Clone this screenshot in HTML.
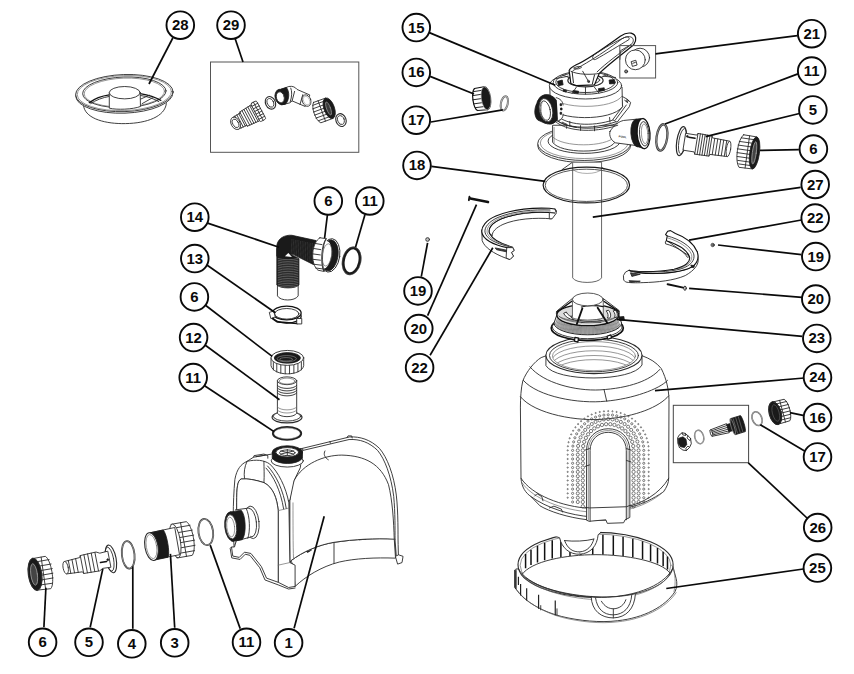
<!DOCTYPE html>
<html><head><meta charset="utf-8"><title>Parts diagram</title>
<style>
html,body{margin:0;padding:0;background:#fff;}
body{width:854px;height:674px;overflow:hidden;font-family:"Liberation Sans",sans-serif;}
svg{display:block;}
.c{fill:#fff;stroke:#0a0a0a;stroke-width:1.9;}
.t{font-family:"Liberation Sans",sans-serif;font-weight:bold;font-size:15.4px;fill:#0a0a0a;text-anchor:middle;}
.l{stroke:#0a0a0a;stroke-width:1.7;fill:none;stroke-linecap:butt;}
.p,.pw,.pl,.plw,.pk,.pd,.pg,.pgw{vector-effect:non-scaling-stroke;}
.pd{fill:none;stroke:#111;stroke-width:1.3;stroke-linejoin:round;stroke-linecap:round;}
.pg{fill:none;stroke:#999;stroke-width:0.6;}
.pgw{fill:#fff;stroke:#999;stroke-width:0.6;}
.p{fill:none;stroke:#2a2a2a;stroke-width:0.9;stroke-linejoin:round;stroke-linecap:round;}
.pw{fill:#fff;stroke:#2a2a2a;stroke-width:0.9;stroke-linejoin:round;stroke-linecap:round;}
.pl{fill:none;stroke:#6a6a6a;stroke-width:0.7;stroke-linejoin:round;stroke-linecap:round;}
.plw{fill:#fff;stroke:#6a6a6a;stroke-width:0.7;stroke-linejoin:round;stroke-linecap:round;}
.pk{fill:#1a1a1a;stroke:#1a1a1a;stroke-width:0.8;stroke-linejoin:round;}
.bx{fill:none;stroke:#555;stroke-width:1;}
</style></head><body>
<svg width="854" height="674" viewBox="0 0 854 674">
<rect width="854" height="674" fill="#fff"/>
<!-- 10_p28.svg -->
<g transform="translate(70 65) scale(0.1288)">
<!-- bowl -->
<path class="pw" d="M108,330 C130,420 280,458 430,455 C600,452 735,400 748,300 L748,250 L100,250 Z"/>
<!-- rim outer -->
<ellipse class="pw" cx="422" cy="228" rx="378" ry="146" transform="rotate(-2 422 228)"/>
<ellipse class="pw" cx="422" cy="218" rx="378" ry="144" transform="rotate(-2 422 218)"/>
<ellipse class="pl" cx="422" cy="218" rx="366" ry="136" transform="rotate(-2 422 218)"/>
<!-- inner rim -->
<ellipse class="pw" cx="422" cy="212" rx="324" ry="119" transform="rotate(-2 422 212)"/>
<ellipse class="pl" cx="422" cy="214" rx="312" ry="112" transform="rotate(-2 422 214)"/>
<!-- inner floor arcs (dark) -->
<path class="pd" d="M150,292 C190,262 250,240 305,232"/>
<path class="p" d="M160,300 C200,272 255,252 305,244"/>
<path class="pd" d="M545,222 C610,232 665,250 705,275"/>
<path class="p" d="M545,236 C600,244 650,260 690,285"/>
<path class="p" d="M548,265 L615,235 M560,300 L640,255"/>
<!-- hub -->
<path class="pw" d="M305,215 L305,335 C360,350 490,345 547,322 L545,215 Z"/>
<ellipse class="pw" cx="425" cy="215" rx="120" ry="48"/>
</g>

<!-- 11_p29.svg -->
<rect class="bx" x="210.5" y="62" width="148.3" height="90.3"/>
<g transform="translate(220 75) scale(0.1639)">
<!-- hose adapter (axis direction approx -28deg) -->
<g transform="rotate(-28 95 295)">
  <path class="pw" d="M95,255 L150,253 L150,246 L235,240 L235,350 L150,344 L150,337 L95,335 Z"/>
  <path class="p" d="M112,254 L112,336 M126,253 L126,337 M140,252 L140,338 M150,246 L150,344 M166,245 L166,345 M180,244 L180,346 M194,243 L194,347 M208,242 L208,348 M222,241 L222,349"/>
  <rect class="pw" x="232" y="232" width="40" height="126" rx="9"/>
  <path class="p" d="M232,250 L272,250 M232,268 L272,268 M232,286 L272,286 M232,304 L272,304 M232,322 L272,322 M232,340 L272,340 M252,232 L252,358"/>
  <ellipse class="pw" cx="95" cy="295" rx="27" ry="40"/>
  <ellipse class="p" cx="95" cy="295" rx="17" ry="28"/>
</g>
<!-- oring -->
<ellipse class="pw" cx="308" cy="170" rx="30" ry="40" transform="rotate(-25 308 170)" style="stroke-width:1.1"/>
<ellipse class="p" cx="308" cy="170" rx="19" ry="28" transform="rotate(-25 308 170)"/>
<!-- elbow -->
<path class="pw" d="M375,88 L420,70 C445,66 460,75 470,88 L548,122 L520,192 L440,158 L425,170 L385,180 Z"/>
<path class="p" d="M432,80 C440,100 440,130 428,165 M455,100 L440,158 M505,120 L488,180"/>
<ellipse class="pw" cx="528" cy="156" rx="26" ry="36" transform="rotate(-20 528 156)"/>
<ellipse class="pg" cx="528" cy="156" rx="18" ry="27" transform="rotate(-20 528 156)"/>
<path class="pk" d="M372,86 L405,76 C425,100 425,150 400,178 L372,182 Z"/>
<ellipse class="pk" cx="372" cy="134" rx="36" ry="48" transform="rotate(-15 372 134)"/>
<ellipse class="pw" cx="368" cy="136" rx="24" ry="34" transform="rotate(-15 368 136)"/>
<!-- nut -->
<g transform="rotate(-20 630 215)">
  <path class="pw" d="M590,150 L670,150 L670,282 L590,282 C565,260 565,172 590,150 Z"/>
  <path class="p" d="M580,165 L670,165 M572,185 L670,185 M570,205 L670,205 M570,225 L670,225 M572,245 L670,245 M580,265 L670,265 M620,150 L620,282"/>
  <ellipse class="pk" cx="668" cy="216" rx="32" ry="66"/>
  <ellipse class="pw" cx="664" cy="216" rx="12" ry="42" style="stroke:#888;fill:#3a3a3a"/>
</g>
<!-- oring 2 -->
<ellipse class="pw" cx="738" cy="275" rx="31" ry="40" transform="rotate(-20 738 275)" style="stroke-width:1.1"/>
<ellipse class="p" cx="738" cy="275" rx="20" ry="28" transform="rotate(-20 738 275)"/>
</g>

<!-- 20_p14.svg -->
<g transform="translate(260 225) scale(0.15581)">
<path class="pw" d="M112,380 L112,455 C130,490 225,490 245,455 L245,380 Z"/>
<path class="pk" d="M108,150 L108,385 C130,410 230,410 250,385 L250,215 L190,185 Z"/>
<path d="M114,215 C150,225 210,225 246,215" fill="none" stroke="#aaa" stroke-width="0.45" vector-effect="non-scaling-stroke"/>
<path d="M114,226 C150,236 210,236 246,226" fill="none" stroke="#aaa" stroke-width="0.45" vector-effect="non-scaling-stroke"/>
<path d="M114,237 C150,247 210,247 246,237" fill="none" stroke="#aaa" stroke-width="0.45" vector-effect="non-scaling-stroke"/>
<path d="M114,248 C150,258 210,258 246,248" fill="none" stroke="#aaa" stroke-width="0.45" vector-effect="non-scaling-stroke"/>
<path d="M114,259 C150,269 210,269 246,259" fill="none" stroke="#aaa" stroke-width="0.45" vector-effect="non-scaling-stroke"/>
<path d="M114,270 C150,280 210,280 246,270" fill="none" stroke="#aaa" stroke-width="0.45" vector-effect="non-scaling-stroke"/>
<path d="M114,281 C150,291 210,291 246,281" fill="none" stroke="#aaa" stroke-width="0.45" vector-effect="non-scaling-stroke"/>
<path d="M114,292 C150,302 210,302 246,292" fill="none" stroke="#aaa" stroke-width="0.45" vector-effect="non-scaling-stroke"/>
<path d="M114,303 C150,313 210,313 246,303" fill="none" stroke="#aaa" stroke-width="0.45" vector-effect="non-scaling-stroke"/>
<path d="M114,314 C150,324 210,324 246,314" fill="none" stroke="#aaa" stroke-width="0.45" vector-effect="non-scaling-stroke"/>
<path d="M114,325 C150,335 210,335 246,325" fill="none" stroke="#aaa" stroke-width="0.45" vector-effect="non-scaling-stroke"/>
<path d="M114,336 C150,346 210,346 246,336" fill="none" stroke="#aaa" stroke-width="0.45" vector-effect="non-scaling-stroke"/>
<path d="M114,347 C150,357 210,357 246,347" fill="none" stroke="#aaa" stroke-width="0.45" vector-effect="non-scaling-stroke"/>
<path d="M114,358 C150,368 210,368 246,358" fill="none" stroke="#aaa" stroke-width="0.45" vector-effect="non-scaling-stroke"/>
<path d="M114,369 C150,379 210,379 246,369" fill="none" stroke="#aaa" stroke-width="0.45" vector-effect="non-scaling-stroke"/>
<path d="M114,380 C150,390 210,390 246,380" fill="none" stroke="#aaa" stroke-width="0.45" vector-effect="non-scaling-stroke"/>
<path d="M114,391 C150,401 210,401 246,391" fill="none" stroke="#aaa" stroke-width="0.45" vector-effect="non-scaling-stroke"/>
<path class="pk" d="M108,200 L108,130 C115,85 160,62 205,66 L360,100 L345,255 L215,190 L180,185 C150,190 130,200 108,200 Z"/>
<path d="M160,200 L182,180 L205,205 Z" fill="#fff" stroke="none"/>
<path d="M205,92 L200,188" stroke="#777" stroke-width="0.4" stroke-dasharray="0.6 0.6" vector-effect="non-scaling-stroke"/>
<path d="M216,94 L211,192" stroke="#777" stroke-width="0.4" stroke-dasharray="0.6 0.6" vector-effect="non-scaling-stroke"/>
<path d="M227,96 L223,197" stroke="#777" stroke-width="0.4" stroke-dasharray="0.6 0.6" vector-effect="non-scaling-stroke"/>
<path d="M238,98 L234,201" stroke="#777" stroke-width="0.4" stroke-dasharray="0.6 0.6" vector-effect="non-scaling-stroke"/>
<path d="M249,100 L246,206" stroke="#777" stroke-width="0.4" stroke-dasharray="0.6 0.6" vector-effect="non-scaling-stroke"/>
<path d="M260,103 L258,211" stroke="#777" stroke-width="0.4" stroke-dasharray="0.6 0.6" vector-effect="non-scaling-stroke"/>
<path d="M271,105 L269,215" stroke="#777" stroke-width="0.4" stroke-dasharray="0.6 0.6" vector-effect="non-scaling-stroke"/>
<path d="M282,107 L281,220" stroke="#777" stroke-width="0.4" stroke-dasharray="0.6 0.6" vector-effect="non-scaling-stroke"/>
<path d="M293,109 L292,224" stroke="#777" stroke-width="0.4" stroke-dasharray="0.6 0.6" vector-effect="non-scaling-stroke"/>
<path d="M304,111 L304,229" stroke="#777" stroke-width="0.4" stroke-dasharray="0.6 0.6" vector-effect="non-scaling-stroke"/>
<path d="M315,114 L316,234" stroke="#777" stroke-width="0.4" stroke-dasharray="0.6 0.6" vector-effect="non-scaling-stroke"/>
<path d="M326,116 L327,238" stroke="#777" stroke-width="0.4" stroke-dasharray="0.6 0.6" vector-effect="non-scaling-stroke"/>
<path d="M337,118 L339,243" stroke="#777" stroke-width="0.4" stroke-dasharray="0.6 0.6" vector-effect="non-scaling-stroke"/>
<ellipse class="pw" cx="450" cy="195" rx="62" ry="108" transform="rotate(8 450 195)" style="stroke-width:1"/>
<ellipse class="pk" cx="446" cy="195" rx="55" ry="100" transform="rotate(8 446 195)"/>
<ellipse class="pw" cx="416" cy="192" rx="42" ry="90" transform="rotate(8 416 192)" style="stroke:none"/>
<path class="pw" d="M385,82 L425,88 C395,120 385,250 410,298 L372,290 C320,250 330,110 385,82 Z"/>
<path class="p" d="M352,118 L398,126 M340,150 L390,158 M336,185 L387,192 M338,220 L388,226 M346,252 L394,258 M358,276 L402,282"/>
<path class="p" d="M425,88 C400,120 392,250 412,298"/>
<ellipse class="pl" cx="430" cy="192" rx="30" ry="72" transform="rotate(8 430 192)"/>
<ellipse cx="588" cy="230" rx="52" ry="84" transform="rotate(12 588 230)" fill="#fff" stroke="#1a1a1a" stroke-width="2.8" vector-effect="non-scaling-stroke"/>
<ellipse cx="588" cy="230" rx="60" ry="91" transform="rotate(12 588 230)" fill="none" stroke="#666" stroke-width="0.5" vector-effect="non-scaling-stroke"/>
<ellipse class="pw" cx="172" cy="585" rx="92" ry="44" style="stroke-width:1.3;stroke:#111"/>
<ellipse class="pw" cx="172" cy="565" rx="92" ry="44" style="stroke-width:1.3;stroke:#111"/>
<ellipse class="p" cx="172" cy="570" rx="78" ry="34"/>
<path class="pw" d="M62,560 L88,552 L98,590 L72,600 Z"/>
<path class="pd" d="M80,600 L110,622 L240,632" style="stroke-width:1.6"/>
<path class="pw" d="M238,600 L268,600 L268,635 L238,635 Z"/>
</g>

<!-- 21_p12.svg -->
<g transform="translate(250 340) scale(0.15564)">
<!-- nut 6 -->
<path class="pw" d="M135,115 L135,165 C150,235 330,235 345,165 L345,115 Z"/>
<path class="p" d="M150,140 L150,192 M172,152 L172,205 M198,160 L198,213 M226,163 L226,217 M254,163 L254,217 M282,160 L282,213 M308,152 L308,205 M330,140 L330,192"/>
<ellipse class="pw" cx="240" cy="115" rx="105" ry="48"/>
<ellipse class="pk" cx="240" cy="115" rx="84" ry="34"/>
<ellipse cx="236" cy="120" rx="62" ry="20" fill="none" stroke="#aaa" stroke-width="0.5" vector-effect="non-scaling-stroke"/>
<ellipse cx="232" cy="124" rx="42" ry="11" fill="none" stroke="#aaa" stroke-width="0.5" vector-effect="non-scaling-stroke"/>
<!-- flange 12 -->
<ellipse class="pw" cx="238" cy="497" rx="96" ry="36" style="stroke-width:1.2"/>
<ellipse class="pw" cx="238" cy="490" rx="88" ry="31"/>
<!-- tube -->
<path class="pw" d="M176,262 L176,470 C190,500 285,500 300,470 L300,262 Z"/>
<path class="p" d="M176,292 C195,318 280,318 300,292 M176,308 C195,334 280,334 300,308 M176,324 C195,350 280,350 300,324 M176,340 C195,366 280,366 300,340"/>
<path class="pl" d="M176,430 C195,456 280,456 300,430 M176,450 C195,476 280,476 300,450"/>
<ellipse class="pw" cx="238" cy="262" rx="62" ry="25"/>
<ellipse class="pl" cx="238" cy="264" rx="50" ry="19"/>
<!-- oring 11 -->
<ellipse cx="238" cy="600" rx="90" ry="40" fill="#fff" stroke="#222" stroke-width="2.2" vector-effect="non-scaling-stroke"/>
<ellipse cx="238" cy="600" rx="82" ry="34" fill="none" stroke="#fff" stroke-width="0.5" vector-effect="non-scaling-stroke"/>
</g>

<!-- 30_pump.svg -->
<g transform="translate(225 425) scale(0.25956)">
<!-- rear outer edge (double) -->
<path class="pw" d="M290,92 L480,46 C520,44 560,56 595,90 C625,125 650,190 660,270 C668,340 666,420 667,460 L668,500 L686,506 L682,530 L665,536 L657,508 L652,440 L250,540 L250,290 C255,200 270,130 290,92 Z"/>
<path class="p" d="M300,98 L478,56 C520,54 555,66 588,98 C615,130 640,195 650,275 C656,340 655,400 655,440"/>
<path class="p" d="M655,440 L660,505 L668,500"/>
<path class="p" d="M470,48 L474,42 L488,42 L490,50 M404,64 L406,70"/>
<!-- lower band -->
<path class="pw" d="M255,522 C300,488 360,462 420,452 C500,440 580,436 652,438 L657,513 C580,510 500,514 440,528 C370,546 310,584 270,622 L262,540 Z"/>
<path class="p" d="M420,452 L420,533"/>
<path class="pw" d="M308,480 L322,474 L332,482 L318,490 Z M518,430 L542,428 L542,440 L518,442 Z" style="stroke:#111;stroke-width:1.1;fill:#888"/>
<!-- main dome surface -->
<path class="pw" d="M250,530 L250,290 C255,250 258,230 266,214 C300,150 380,116 450,116 C540,118 600,150 630,230 C645,290 650,370 652,440 C580,436 500,440 420,452 C360,462 300,488 255,522 Z"/>
<path class="p" d="M385,100 C378,112 384,126 398,134"/>
<path class="pl" d="M262,300 C262,380 262,460 264,516"/>
<!-- top-left block and top surface -->
<path class="pw" d="M85,140 L110,124 L180,112 L300,92 L290,165 L266,214 L250,290 L200,300 L170,230 L85,200 Z"/>
<!-- front (left) face -->
<path class="pw" d="M35,470 C30,400 30,300 38,210 C45,170 62,150 85,140 C120,132 150,135 172,150 C205,180 235,240 246,300 L250,530 L270,540 L270,622 L245,626 L205,606 L205,330 C200,280 185,240 150,222 C120,212 85,205 62,208 C48,215 45,240 45,300 L45,440 Z"/>
<path class="pw" d="M45,440 L45,300 C45,240 48,215 62,208 C85,205 120,212 150,222 C185,240 200,280 205,330 L205,606 L160,590 L140,545 L100,495 L75,490 L55,510 L30,505 L25,470 L35,470 Z"/>
<path class="p" d="M164,158 C195,190 225,250 236,322 M158,166 C186,196 214,250 226,324 M85,140 C75,160 72,185 75,205 M150,140 C150,165 152,195 150,222"/>
<path class="p" d="M110,124 L112,118 L150,112 L165,118 L165,128 M120,122 L155,116"/>
<path class="pl" d="M205,330 L246,320 M250,530 L205,540"/>
<!-- bottom wavy edge second line -->
<path class="p" d="M25,470 L20,475 L26,512 L58,518 L78,498 L96,502 L134,550 L154,597 L205,616 L245,632 L270,628"/>
<!-- left port flange -->
<ellipse class="pw" cx="103" cy="375" rx="28" ry="63" transform="rotate(-6 103 375)"/>
<ellipse class="p" cx="98" cy="376" rx="23" ry="55" transform="rotate(-6 98 376)"/>
<path d="M40,327 L92,320 L98,432 L45,446 Z" fill="#fff" stroke="none"/>
<path class="p" d="M40,327 L92,320 M98,432 L45,446"/>
<path class="p" d="M82,322 C96,350 98,410 88,436"/>
<path class="pk" d="M18,336 L62,328 C80,345 84,420 66,442 L26,448 Z"/>
<ellipse class="pk" cx="27" cy="391" rx="28" ry="57" transform="rotate(-6 27 391)"/>
<ellipse class="pw" cx="24" cy="392" rx="21" ry="47" transform="rotate(-6 24 392)"/>
<ellipse class="pl" cx="22" cy="393" rx="15" ry="38" transform="rotate(-6 22 393)"/>
<!-- top port -->
<ellipse class="pw" cx="240" cy="138" rx="62" ry="24"/>
<path class="pk" d="M182,105 L182,128 C200,155 280,155 298,128 L298,105 Z"/>
<ellipse class="pk" cx="240" cy="105" rx="58" ry="25"/>
<ellipse class="pw" cx="240" cy="105" rx="44" ry="18"/>
<ellipse class="p" cx="240" cy="107" rx="30" ry="11"/>
<path class="p" d="M215,100 L265,112 M265,100 L215,112 M240,94 L240,118"/>
</g>

<!-- 31_bl.svg -->
<g transform="translate(20 515) scale(0.23419)">
<!-- nut 6 -->
<g transform="rotate(-8 88 250)">
<path class="pw" d="M62,182 L118,180 C140,195 145,300 122,320 L62,318 Z"/>
<path class="p" d="M70,198 L132,196 M72,218 L138,216 M72,238 L140,236 M72,258 L140,256 M72,278 L138,276 M70,298 L132,298 M100,181 L100,319"/>
<ellipse class="pk" cx="64" cy="250" rx="28" ry="68"/>
<ellipse class="pw" cx="60" cy="250" rx="14" ry="46" style="fill:#444;stroke:#999"/>
<ellipse class="pw" cx="64" cy="250" rx="29" ry="70" style="fill:none"/>
</g>
<!-- hose adapter 5 -->
<g transform="rotate(-11 195 225)">
<ellipse class="pw" cx="392" cy="225" rx="22" ry="60" style="stroke-width:1.1"/>
<ellipse class="p" cx="386" cy="225" rx="17" ry="52"/>
<path class="pw" d="M195,198 L262,194 L266,186 L335,184 L350,192 L385,190 L385,260 L350,258 L335,266 L266,264 L262,256 L195,252 Z"/>
<path class="p" d="M212,197 L212,253 M228,196 L228,254 M244,195 L244,255 M266,186 L266,264 M282,186 L282,264 M298,185 L298,265 M314,185 L314,265 M330,185 L330,265"/>
<path class="pd" d="M345,232 L372,232" style="stroke-width:1.5"/>
<circle class="pk" cx="378" cy="226" r="4"/>
<ellipse class="pw" cx="195" cy="225" rx="11" ry="27"/>
</g>
<!-- oring 4 -->
<ellipse cx="462" cy="170" rx="27" ry="59" transform="rotate(-6 462 170)" fill="#fff" stroke="#333" stroke-width="1.8" vector-effect="non-scaling-stroke"/>
<ellipse cx="462" cy="170" rx="27" ry="59" transform="rotate(-6 462 170)" fill="none" stroke="#ddd" stroke-width="0.5" vector-effect="non-scaling-stroke"/>
<!-- part 3 -->
<g transform="rotate(-10 640 120)">
<path class="pw" d="M660,42 L725,42 C748,60 750,165 725,188 L660,188 Z"/>
<path class="p" d="M672,60 L738,60 M674,82 L744,82 M675,104 L746,104 M675,126 L746,126 M674,148 L744,148 M672,170 L738,170 M700,42 L700,188"/>
<ellipse class="pw" cx="664" cy="115" rx="22" ry="73"/>
<path class="pw" d="M565,62 L672,58 L672,176 L565,178 Z"/>
<path class="pk" d="M562,62 L622,60 C634,80 634,160 622,178 L562,180 Z"/>
<ellipse class="pw" cx="560" cy="121" rx="28" ry="60" style="stroke-width:1.1"/>
<ellipse class="pl" cx="560" cy="121" rx="22" ry="52"/>
</g>
</g>
<!-- oring 11 bottom -->
<ellipse cx="205.8" cy="532" rx="7.3" ry="13.2" transform="rotate(-8 205.8 532)" fill="#fff" stroke="#333" stroke-width="1.8"/>
<ellipse cx="205.8" cy="532" rx="7.3" ry="13.2" transform="rotate(-8 205.8 532)" fill="none" stroke="#ddd" stroke-width="0.5"/>

<!-- 40_valve.svg -->
<g transform="translate(530 25) scale(0.21505)">
<!-- pipe top under base & gusset -->
<path class="p" d="M195,640 L150,672 M310,640 L345,672"/>
<!-- base disc -->
<ellipse class="pw" cx="252" cy="561" rx="216" ry="79"/>
<ellipse class="pw" cx="252" cy="551" rx="216" ry="79"/>
<ellipse class="pl" cx="252" cy="549" rx="204" ry="72"/>
<ellipse class="p" cx="252" cy="540" rx="168" ry="57"/>
<!-- lower body -->
<path class="pw" d="M105,468 L105,545 C140,600 360,600 395,545 L395,468 Z"/>
<path class="pl" d="M112,476 L112,548 M105,520 C150,570 350,570 395,520"/>
<!-- right port tube -->
<path class="pw" d="M372,495 C390,465 415,448 435,444 L495,438 L505,562 L398,548 C378,538 366,515 372,495 Z"/>
<text x="412" y="522" font-family="Liberation Sans, sans-serif" font-weight="bold" font-size="13" fill="#222" transform="rotate(8 412 522)">POOL</text>
<path class="pk" d="M492,438 L528,434 L532,576 L502,566 Z"/>
<ellipse class="pk" cx="497" cy="503" rx="28" ry="64" transform="rotate(-4 497 503)"/>
<ellipse class="pw" cx="528" cy="505" rx="30" ry="70" transform="rotate(-4 528 505)" style="stroke:#111;stroke-width:1.3"/>
<ellipse class="p" cx="531" cy="506" rx="22" ry="57" transform="rotate(-4 531 506)"/>
<ellipse class="pl" cx="533" cy="506" rx="15" ry="46" transform="rotate(-4 533 506)"/>
<!-- clamp flange ring -->
<path class="pw" d="M98,408 C110,470 250,500 400,450 L440,400 L440,370 L98,370 Z"/>
<path class="p" d="M100,420 C140,480 280,500 405,458 M130,425 C170,462 280,478 392,440 M140,420 L140,440 M185,448 L185,470 M190,470 L215,476 M370,430 L372,452 M400,425 L408,446"/>
<path class="p" d="M110,440 C150,492 290,508 408,466 M235,468 L235,490 M300,470 L300,492 M150,452 L172,462 L170,480"/>
<path class="pw" d="M425,330 L452,345 L468,360 L462,380 L405,452 L385,440 L430,380 Z"/>
<path class="p" d="M440,350 L455,362 M448,372 L398,440"/>
<circle class="p" cx="452" cy="352" r="5"/>
<!-- upper body -->
<path class="pw" d="M92,290 L95,380 C120,445 380,450 430,380 L428,290 Z"/>
<path class="pl" d="M95,330 C130,395 390,395 428,330"/>
<!-- top dial -->
<ellipse class="pw" cx="258" cy="282" rx="168" ry="62"/>
<ellipse class="pw" cx="258" cy="268" rx="150" ry="54"/>
<ellipse class="p" cx="258" cy="266" rx="138" ry="48"/>
<ellipse class="pw" cx="258" cy="258" rx="82" ry="30" style="stroke-width:1.2"/>
<ellipse class="p" cx="258" cy="256" rx="66" ry="22"/>
<path class="pk" d="M128,262 L150,256 L154,278 L132,282 Z M368,256 L392,254 L394,272 L370,274 Z M318,296 L345,292 L346,304 L320,308 Z M200,304 L226,308 L224,318 L200,314 Z M155,300 L170,304 L168,312 L154,308 Z"/>
<path class="p" d="M178,238 L118,250 M340,238 L398,244 M300,290 L320,316 M215,290 L196,318 M258,290 L258,322 M150,232 L185,246 M360,230 L330,244"/>
<!-- handle -->
<path class="pw" d="M182,212 L190,272 L215,282 L300,278 L322,225 C380,170 450,120 482,92 C498,70 495,45 470,38 C450,34 435,42 420,52 C340,110 260,165 215,185 C195,195 185,200 182,212 Z" style="stroke:#111;stroke-width:1.2"/>
<path class="p" d="M296,140 C340,110 400,75 440,58 C455,52 465,58 460,68 C420,92 350,135 305,160 C292,165 286,150 296,140 Z"/>
<path class="p" d="M200,212 C240,190 330,140 425,66 C445,52 468,50 478,62 C484,74 478,86 466,94 C420,130 350,180 312,218"/>
<path class="p" d="M190,215 C220,232 290,232 322,225 M205,200 C215,192 235,190 240,196 C230,205 215,208 205,200 Z M245,215 L275,268 M468,92 L420,120 L418,160"/>
<path class="p" d="M196,218 L202,268 M300,232 L290,274" style="stroke:#111"/>
<circle class="p" cx="272" cy="262" r="5"/>
<!-- left port -->
<path class="pk" d="M30,368 C18,395 20,425 36,442 L72,458 L60,420 Z"/>
<ellipse class="pk" cx="84" cy="392" rx="54" ry="70" transform="rotate(-14 84 392)"/>
<ellipse class="pw" cx="74" cy="396" rx="31" ry="55" transform="rotate(-12 74 396)"/>
<ellipse class="p" cx="71" cy="398" rx="23" ry="46" transform="rotate(-12 71 398)"/>
<path class="pl" d="M56,360 C48,385 50,420 64,442"/>
<path class="pw" d="M124,340 L150,350 L154,432 L130,442 Z" style="stroke:none"/>
<path class="p" d="M122,338 C142,343 152,355 154,372 M132,446 C147,441 154,430 154,415"/>
<path class="pk" d="M140,366 L147,366 L147,375 L140,375 Z M142,386 L149,386 L149,395 L142,395 Z M140,406 L147,406 L147,415 L140,415 Z"/>
</g>
<!-- box 21 -->
<rect class="bx" x="619.8" y="45.6" width="35.8" height="32.4" fill="#fff"/>
<g transform="translate(530 25) scale(0.21505)">
<circle class="pw" cx="512" cy="152" r="44"/>
<circle class="pw" cx="490" cy="162" r="46"/>
<path class="p" d="M472,170 L492,164 L498,186 L478,192 Z M478,178 L490,174"/>
<circle class="pw" cx="447" cy="216" r="7" style="fill:#888"/>
</g>

<!-- 41_vr.svg -->
<g transform="translate(650 110) scale(0.15222)">
<!-- oring 11 -->
<ellipse cx="78" cy="180" rx="35" ry="87" transform="rotate(8 78 180)" fill="#fff" stroke="#3a3a3a" stroke-width="2.3" vector-effect="non-scaling-stroke"/>
<ellipse cx="78" cy="180" rx="35" ry="87" transform="rotate(8 78 180)" fill="none" stroke="#ddd" stroke-width="0.5" vector-effect="non-scaling-stroke"/>
<!-- adapter 5 -->
<g transform="rotate(9 210 205)">
<ellipse class="pw" cx="206" cy="205" rx="30" ry="96" style="stroke-width:1.2"/>
<ellipse class="p" cx="214" cy="205" rx="24" ry="84"/>
<path class="pw" d="M228,150 L300,150 L306,138 L400,140 L404,152 L520,156 L520,258 L404,262 L400,274 L306,276 L300,262 L228,262 Z"/>
<path class="p" d="M306,138 L306,276 M322,138 L322,276 M338,138 L338,276 M354,139 L354,275 M370,139 L370,275 M386,140 L386,274 M400,140 L400,274 M420,153 L420,261 M440,153 L440,261 M460,154 L460,260 M480,155 L480,259 M500,155 L500,259"/>
<ellipse class="pw" cx="520" cy="207" rx="14" ry="51"/>
<path class="pd" d="M250,172 L292,172" style="stroke-width:1.5"/>
<circle class="pk" cx="240" cy="168" r="6"/>
</g>
<!-- nut 6 -->
<g transform="rotate(8 645 272)">
<path class="pw" d="M600,168 L690,170 L690,382 L600,384 C565,350 565,200 600,168 Z"/>
<path class="p" d="M588,190 L690,190 M578,215 L690,215 M574,240 L690,240 M572,265 L690,265 M574,290 L690,290 M578,315 L690,315 M584,340 L690,340 M594,362 L690,362 M640,169 L640,383"/>
<ellipse class="pk" cx="688" cy="276" rx="32" ry="106"/>
<ellipse class="pw" cx="686" cy="276" rx="13" ry="74" style="fill:#444;stroke:#999"/>
</g>
</g>
<!-- cap 16 & oring 17 (top) -->
<g transform="translate(460 75) scale(0.07417)">
<g transform="rotate(-8 290 320)">
<path class="pw" d="M215,170 L345,165 L345,478 L215,470 C160,430 160,215 215,170 Z" style="stroke:#111;stroke-width:1.2"/>
<path class="p" d="M195,210 L330,208 M178,262 L325,260 M172,318 L325,318 M176,374 L325,374 M190,428 L330,430" style="stroke:#111"/>
<ellipse class="pk" cx="352" cy="322" rx="62" ry="158"/>
<ellipse cx="352" cy="322" rx="62" ry="158" fill="none" stroke="#fff" stroke-width="0.5" vector-effect="non-scaling-stroke" transform="translate(-4 0) scale(1)"/>
<ellipse class="pk" cx="358" cy="322" rx="46" ry="128"/>
</g>
<ellipse cx="598" cy="382" rx="46" ry="98" transform="rotate(12 598 382)" fill="#fff" stroke="#666" stroke-width="2" vector-effect="non-scaling-stroke"/>
<ellipse cx="598" cy="382" rx="46" ry="98" transform="rotate(12 598 382)" fill="none" stroke="#e8e8e8" stroke-width="0.6" vector-effect="non-scaling-stroke"/>
</g>

<!-- 42_mid.svg -->
<g transform="translate(460 150) scale(0.30445)">
<path class="pgw" d="M370,40 L370,420 C380,440 455,440 465,420 L465,40 Z" style="stroke:#555;stroke-width:0.9"/>
<path class="pg" d="M370,62 C380,82 455,82 465,62" style="stroke:#777"/>
<ellipse cx="415" cy="115" rx="142" ry="59" fill="none" stroke="#1a1a1a" stroke-width="1.2" vector-effect="non-scaling-stroke"/>
<ellipse cx="415" cy="116" rx="135" ry="53" fill="none" stroke="#444" stroke-width="0.9" vector-effect="non-scaling-stroke"/>
<path d="M34,159 L92,171" stroke="#111" stroke-width="2.6" stroke-linecap="round" vector-effect="non-scaling-stroke"/>
<path d="M31,153 L29,165" stroke="#111" stroke-width="1.8" stroke-linecap="round" vector-effect="non-scaling-stroke"/>
<path d="M682,441 L733,452" stroke="#111" stroke-width="2" stroke-linecap="round" vector-effect="non-scaling-stroke"/>
<ellipse class="pw" cx="739" cy="454" rx="4" ry="7" style="stroke:#111"/>
<circle class="pw" cx="830" cy="312" r="5.5" style="stroke:#333"/>
<circle class="p" cx="830" cy="312" r="2.5" style="stroke:#333"/>
</g>
<g transform="translate(465 190) scale(0.14052)">
<path class="pw" d="M120,285 L122,360 C140,410 200,450 290,485 L320,495 L345,470 L330,445 L350,430 L340,410 C250,395 130,350 120,285 Z"/>
<path class="pw" d="M600,160 L615,205 C500,195 360,205 270,245 C220,268 190,300 195,325 L175,310 C160,275 190,235 260,205 C360,165 500,155 600,160 Z"/>
<path class="pw" d="M600,130 C480,125 330,140 220,185 C150,215 115,260 120,300 C125,350 200,390 300,410 L340,410 L335,405 C260,385 195,350 175,310 C160,275 190,235 260,205 C360,165 500,155 600,160 L640,165 L650,150 L640,135 Z" style="stroke-width:1.1;stroke:#111"/>
<path class="p" d="M605,142 C490,137 345,150 235,195 C170,225 138,262 142,300 C150,345 215,380 310,402"/>
<path class="pl" d="M605,151 C495,146 355,158 248,200 C182,230 150,268 158,305 C170,345 230,378 320,400"/>
<path class="pw" d="M640,135 L650,165 L620,205 L600,205 L600,160 L640,165"/>
<path class="pk" d="M215,412 L295,428 L295,440 L225,425 Z" style="fill:#444"/>
<path class="pw" d="M300,410 L340,410 L350,430 L330,445 L345,470 L320,495 L295,485 Z"/>
</g>
<g transform="translate(615 225) scale(0.14052)">
<path class="pw" d="M585,190 L592,240 C596,280 570,320 500,360 C420,395 300,408 200,410 C150,412 100,412 75,405 L62,392 L60,360 L75,335 L100,322 C150,340 220,348 300,345 C420,340 520,320 560,290 Z"/>
<path class="pw" d="M365,112 L358,120 L360,134 C430,152 490,187 515,230 L530,225 Z"/>
<path class="pw" d="M430,60 C500,85 560,130 585,190 C598,230 590,262 560,290 C520,320 420,340 300,345 C220,348 150,340 100,322 L110,328 C220,335 340,330 420,315 C500,295 540,265 530,225 C510,175 440,135 365,112 L372,78 L360,68 L375,45 L395,40 Z" style="stroke-width:1.1;stroke:#111"/>
<path class="p" d="M372,78 C460,100 540,150 560,205 C572,250 540,290 470,312 C390,335 250,342 120,326"/>
<path class="pl" d="M375,92 C455,115 525,160 545,210 C556,255 520,290 450,312"/>
<path class="pk" d="M110,340 L180,350 L120,366 Z M100,396 L180,400 L110,408 Z" style="fill:#444"/>
<path class="pk" d="M540,285 L565,290 L560,305 L545,300 Z"/>
</g>
<circle class="pw" cx="427.6" cy="239.5" r="1.9" style="stroke:#333"/>
<path class="p" d="M426.5,238.8 L428.7,238.8 M426.5,240.2 L428.7,240.2" style="stroke-width:0.5"/>

<!-- 50_tank.svg -->
<g transform="translate(505 330) scale(0.29654)">
<path class="pw" d="M141,86 L122,93 C100,106 72,140 60,172 C54,196 52,230 52,260 L54,500 C56,530 70,550 88,562 L118,593 C150,612 210,632 278,640 L300,642 L405,640 L420,598 C460,589 500,569 534,546 C546,530 552,515 552,500 L553,235 C552,200 545,166 527,130 C510,109 490,97 463,87 Z"/>
<path class="p" d="M62,170 C110,225 250,250 340,240 C430,232 520,200 548,170"/>
<path class="p" d="M52,225 C100,285 250,310 340,300 C440,292 520,260 552,222"/>
<path class="p" d="M84,124 C130,180 240,206 320,202 C420,196 490,170 522,133"/>
<path class="p" d="M334,201 L343,240"/>
<path class="p" d="M54,500 C90,556 190,596 290,602 L410,596 C460,585 520,555 552,500"/>
<path class="pl" d="M58,516 C95,570 195,608 290,614 M412,606 C455,596 505,575 540,540"/>
<path class="p" d="M88,562 C140,600 220,625 290,630"/>
<path class="p" d="M100,560 L108,552 L124,562 L128,576 M150,600 L165,594 L190,604 L194,614"/>
<path class="pw" d="M138,85 L138,120 C170,176 430,176 462,118 L462,85 Z"/>
<ellipse class="pw" cx="300" cy="85" rx="162" ry="62" style="stroke-width:1.1"/>
<ellipse class="p" cx="300" cy="86" rx="150" ry="55"/>
<ellipse class="pl" cx="300" cy="88" rx="140" ry="49"/>
<clipPath id="neckclip"><ellipse cx="300" cy="88" rx="140" ry="49"/></clipPath>
<g clip-path="url(#neckclip)"><ellipse class="pl" cx="300" cy="104" rx="142" ry="50"/><ellipse class="pl" cx="300" cy="120" rx="142" ry="50"/><ellipse class="pl" cx="300" cy="136" rx="142" ry="50"/><ellipse class="pl" cx="300" cy="150" rx="142" ry="50"/></g>
<path class="pw" d="M275,640 L275,406 C275,362 308,333 348,333 C390,333 421,362 421,406 L421,632 L405,640 L400,650 L345,652 L340,640 L285,645 Z"/>
<path class="p" d="M287,645 L287,406 C287,370 314,345 348,345 C383,345 409,370 409,406 L409,640"/>
<path class="pl" d="M281,640 L281,406 C281,366 311,339 348,339 C386,339 415,366 415,406 L415,636"/>
<path class="p" d="M270,405 L285,400 M410,400 L425,405 M270,460 L285,455 M410,440 L425,445 M270,598 L285,600 L410,596 L425,590"/>
<circle class="pg" cx="262.4" cy="406.0" r="5.6" style="stroke:#444;stroke-width:0.7"/>
<circle class="pg" cx="263.6" cy="391.4" r="5.6" style="stroke:#444;stroke-width:0.7"/>
<circle class="pg" cx="267.0" cy="377.2" r="5.6" style="stroke:#444;stroke-width:0.7"/>
<circle class="pg" cx="272.7" cy="363.8" r="5.6" style="stroke:#444;stroke-width:0.7"/>
<circle class="pg" cx="280.4" cy="351.6" r="5.6" style="stroke:#444;stroke-width:0.7"/>
<circle class="pg" cx="290.0" cy="340.8" r="5.6" style="stroke:#444;stroke-width:0.7"/>
<circle class="pg" cx="301.2" cy="331.8" r="5.6" style="stroke:#444;stroke-width:0.7"/>
<circle class="pg" cx="313.6" cy="324.9" r="5.6" style="stroke:#444;stroke-width:0.7"/>
<circle class="pg" cx="327.0" cy="320.1" r="5.6" style="stroke:#444;stroke-width:0.7"/>
<circle class="pg" cx="340.9" cy="317.7" r="5.6" style="stroke:#444;stroke-width:0.7"/>
<circle class="pg" cx="355.1" cy="317.7" r="5.6" style="stroke:#444;stroke-width:0.7"/>
<circle class="pg" cx="369.0" cy="320.1" r="5.6" style="stroke:#444;stroke-width:0.7"/>
<circle class="pg" cx="382.4" cy="324.9" r="5.6" style="stroke:#444;stroke-width:0.7"/>
<circle class="pg" cx="394.8" cy="331.8" r="5.6" style="stroke:#444;stroke-width:0.7"/>
<circle class="pg" cx="406.0" cy="340.8" r="5.6" style="stroke:#444;stroke-width:0.7"/>
<circle class="pg" cx="415.6" cy="351.6" r="5.6" style="stroke:#444;stroke-width:0.7"/>
<circle class="pg" cx="423.3" cy="363.8" r="5.6" style="stroke:#444;stroke-width:0.7"/>
<circle class="pg" cx="429.0" cy="377.2" r="5.6" style="stroke:#444;stroke-width:0.7"/>
<circle class="pg" cx="432.4" cy="391.4" r="5.6" style="stroke:#444;stroke-width:0.7"/>
<circle class="pg" cx="433.6" cy="406.0" r="5.6" style="stroke:#444;stroke-width:0.7"/>
<circle class="pg" cx="262.4" cy="420.5" r="5.6" style="stroke:#444;stroke-width:0.7"/>
<circle class="pg" cx="433.6" cy="420.5" r="5.6" style="stroke:#444;stroke-width:0.7"/>
<circle class="pg" cx="262.4" cy="435.0" r="5.6" style="stroke:#444;stroke-width:0.7"/>
<circle class="pg" cx="433.6" cy="435.0" r="5.6" style="stroke:#444;stroke-width:0.7"/>
<circle class="pg" cx="262.4" cy="449.5" r="5.6" style="stroke:#444;stroke-width:0.7"/>
<circle class="pg" cx="433.6" cy="449.5" r="5.6" style="stroke:#444;stroke-width:0.7"/>
<circle class="pg" cx="262.4" cy="464.0" r="5.6" style="stroke:#444;stroke-width:0.7"/>
<circle class="pg" cx="433.6" cy="464.0" r="5.6" style="stroke:#444;stroke-width:0.7"/>
<circle class="pg" cx="262.4" cy="478.5" r="5.6" style="stroke:#444;stroke-width:0.7"/>
<circle class="pg" cx="433.6" cy="478.5" r="5.6" style="stroke:#444;stroke-width:0.7"/>
<circle class="pg" cx="262.4" cy="493.0" r="5.6" style="stroke:#444;stroke-width:0.7"/>
<circle class="pg" cx="433.6" cy="493.0" r="5.6" style="stroke:#444;stroke-width:0.7"/>
<circle class="pg" cx="262.4" cy="507.5" r="5.6" style="stroke:#444;stroke-width:0.7"/>
<circle class="pg" cx="433.6" cy="507.5" r="5.6" style="stroke:#444;stroke-width:0.7"/>
<circle class="pg" cx="262.4" cy="522.0" r="5.6" style="stroke:#444;stroke-width:0.7"/>
<circle class="pg" cx="433.6" cy="522.0" r="5.6" style="stroke:#444;stroke-width:0.7"/>
<circle class="pg" cx="262.4" cy="536.5" r="5.6" style="stroke:#444;stroke-width:0.7"/>
<circle class="pg" cx="433.6" cy="536.5" r="5.6" style="stroke:#444;stroke-width:0.7"/>
<circle class="pg" cx="262.4" cy="551.0" r="5.6" style="stroke:#444;stroke-width:0.7"/>
<circle class="pg" cx="433.6" cy="551.0" r="5.6" style="stroke:#444;stroke-width:0.7"/>
<circle class="pg" cx="262.4" cy="565.5" r="5.6" style="stroke:#444;stroke-width:0.7"/>
<circle class="pg" cx="433.6" cy="565.5" r="5.6" style="stroke:#444;stroke-width:0.7"/>
<circle class="pg" cx="262.4" cy="580.0" r="5.6" style="stroke:#444;stroke-width:0.7"/>
<circle class="pg" cx="433.6" cy="580.0" r="5.6" style="stroke:#444;stroke-width:0.7"/>
<circle class="pg" cx="262.4" cy="594.5" r="5.6" style="stroke:#444;stroke-width:0.7"/>
<circle class="pg" cx="433.6" cy="594.5" r="5.6" style="stroke:#444;stroke-width:0.7"/>
<circle class="pg" cx="245.5" cy="406.0" r="5.3" style="stroke:#444;stroke-width:0.7"/>
<circle class="pg" cx="246.5" cy="391.0" r="5.3" style="stroke:#444;stroke-width:0.7"/>
<circle class="pg" cx="249.7" cy="376.3" r="5.3" style="stroke:#444;stroke-width:0.7"/>
<circle class="pg" cx="254.8" cy="362.1" r="5.3" style="stroke:#444;stroke-width:0.7"/>
<circle class="pg" cx="261.8" cy="348.9" r="5.3" style="stroke:#444;stroke-width:0.7"/>
<circle class="pg" cx="270.5" cy="336.9" r="5.3" style="stroke:#444;stroke-width:0.7"/>
<circle class="pg" cx="280.9" cy="326.2" r="5.3" style="stroke:#444;stroke-width:0.7"/>
<circle class="pg" cx="292.6" cy="317.2" r="5.3" style="stroke:#444;stroke-width:0.7"/>
<circle class="pg" cx="305.4" cy="310.0" r="5.3" style="stroke:#444;stroke-width:0.7"/>
<circle class="pg" cx="319.1" cy="304.7" r="5.3" style="stroke:#444;stroke-width:0.7"/>
<circle class="pg" cx="333.4" cy="301.5" r="5.3" style="stroke:#444;stroke-width:0.7"/>
<circle class="pg" cx="348.0" cy="300.4" r="5.3" style="stroke:#444;stroke-width:0.7"/>
<circle class="pg" cx="362.6" cy="301.5" r="5.3" style="stroke:#444;stroke-width:0.7"/>
<circle class="pg" cx="376.9" cy="304.7" r="5.3" style="stroke:#444;stroke-width:0.7"/>
<circle class="pg" cx="390.6" cy="310.0" r="5.3" style="stroke:#444;stroke-width:0.7"/>
<circle class="pg" cx="403.4" cy="317.2" r="5.3" style="stroke:#444;stroke-width:0.7"/>
<circle class="pg" cx="415.1" cy="326.2" r="5.3" style="stroke:#444;stroke-width:0.7"/>
<circle class="pg" cx="425.5" cy="336.9" r="5.3" style="stroke:#444;stroke-width:0.7"/>
<circle class="pg" cx="434.2" cy="348.9" r="5.3" style="stroke:#444;stroke-width:0.7"/>
<circle class="pg" cx="441.2" cy="362.1" r="5.3" style="stroke:#444;stroke-width:0.7"/>
<circle class="pg" cx="446.3" cy="376.3" r="5.3" style="stroke:#444;stroke-width:0.7"/>
<circle class="pg" cx="449.5" cy="391.0" r="5.3" style="stroke:#444;stroke-width:0.7"/>
<circle class="pg" cx="450.5" cy="406.0" r="5.3" style="stroke:#444;stroke-width:0.7"/>
<circle class="pg" cx="245.5" cy="420.5" r="5.3" style="stroke:#444;stroke-width:0.7"/>
<circle class="pg" cx="450.5" cy="420.5" r="5.3" style="stroke:#444;stroke-width:0.7"/>
<circle class="pg" cx="245.5" cy="435.0" r="5.3" style="stroke:#444;stroke-width:0.7"/>
<circle class="pg" cx="450.5" cy="435.0" r="5.3" style="stroke:#444;stroke-width:0.7"/>
<circle class="pg" cx="245.5" cy="449.5" r="5.3" style="stroke:#444;stroke-width:0.7"/>
<circle class="pg" cx="450.5" cy="449.5" r="5.3" style="stroke:#444;stroke-width:0.7"/>
<circle class="pg" cx="245.5" cy="464.0" r="5.3" style="stroke:#444;stroke-width:0.7"/>
<circle class="pg" cx="450.5" cy="464.0" r="5.3" style="stroke:#444;stroke-width:0.7"/>
<circle class="pg" cx="245.5" cy="478.5" r="5.3" style="stroke:#444;stroke-width:0.7"/>
<circle class="pg" cx="450.5" cy="478.5" r="5.3" style="stroke:#444;stroke-width:0.7"/>
<circle class="pg" cx="245.5" cy="493.0" r="5.3" style="stroke:#444;stroke-width:0.7"/>
<circle class="pg" cx="450.5" cy="493.0" r="5.3" style="stroke:#444;stroke-width:0.7"/>
<circle class="pg" cx="245.5" cy="507.5" r="5.3" style="stroke:#444;stroke-width:0.7"/>
<circle class="pg" cx="450.5" cy="507.5" r="5.3" style="stroke:#444;stroke-width:0.7"/>
<circle class="pg" cx="245.5" cy="522.0" r="5.3" style="stroke:#444;stroke-width:0.7"/>
<circle class="pg" cx="450.5" cy="522.0" r="5.3" style="stroke:#444;stroke-width:0.7"/>
<circle class="pg" cx="245.5" cy="536.5" r="5.3" style="stroke:#444;stroke-width:0.7"/>
<circle class="pg" cx="450.5" cy="536.5" r="5.3" style="stroke:#444;stroke-width:0.7"/>
<circle class="pg" cx="245.5" cy="551.0" r="5.3" style="stroke:#444;stroke-width:0.7"/>
<circle class="pg" cx="450.5" cy="551.0" r="5.3" style="stroke:#444;stroke-width:0.7"/>
<circle class="pg" cx="245.5" cy="565.5" r="5.3" style="stroke:#444;stroke-width:0.7"/>
<circle class="pg" cx="450.5" cy="565.5" r="5.3" style="stroke:#444;stroke-width:0.7"/>
<circle class="pg" cx="245.5" cy="580.0" r="5.3" style="stroke:#444;stroke-width:0.7"/>
<circle class="pg" cx="450.5" cy="580.0" r="5.3" style="stroke:#444;stroke-width:0.7"/>
<circle class="pg" cx="228.0" cy="406.0" r="3.6" style="stroke:#444;stroke-width:0.7"/>
<circle class="pg" cx="228.9" cy="391.5" r="3.6" style="stroke:#444;stroke-width:0.7"/>
<circle class="pg" cx="231.5" cy="377.3" r="3.6" style="stroke:#444;stroke-width:0.7"/>
<circle class="pg" cx="235.8" cy="363.4" r="3.6" style="stroke:#444;stroke-width:0.7"/>
<circle class="pg" cx="241.7" cy="350.2" r="3.6" style="stroke:#444;stroke-width:0.7"/>
<circle class="pg" cx="249.2" cy="337.8" r="3.6" style="stroke:#444;stroke-width:0.7"/>
<circle class="pg" cx="258.2" cy="326.4" r="3.6" style="stroke:#444;stroke-width:0.7"/>
<circle class="pg" cx="268.4" cy="316.2" r="3.6" style="stroke:#444;stroke-width:0.7"/>
<circle class="pg" cx="279.8" cy="307.2" r="3.6" style="stroke:#444;stroke-width:0.7"/>
<circle class="pg" cx="292.2" cy="299.7" r="3.6" style="stroke:#444;stroke-width:0.7"/>
<circle class="pg" cx="305.4" cy="293.8" r="3.6" style="stroke:#444;stroke-width:0.7"/>
<circle class="pg" cx="319.3" cy="289.5" r="3.6" style="stroke:#444;stroke-width:0.7"/>
<circle class="pg" cx="333.5" cy="286.9" r="3.6" style="stroke:#444;stroke-width:0.7"/>
<circle class="pg" cx="348.0" cy="286.0" r="3.6" style="stroke:#444;stroke-width:0.7"/>
<circle class="pg" cx="362.5" cy="286.9" r="3.6" style="stroke:#444;stroke-width:0.7"/>
<circle class="pg" cx="376.7" cy="289.5" r="3.6" style="stroke:#444;stroke-width:0.7"/>
<circle class="pg" cx="390.6" cy="293.8" r="3.6" style="stroke:#444;stroke-width:0.7"/>
<circle class="pg" cx="403.8" cy="299.7" r="3.6" style="stroke:#444;stroke-width:0.7"/>
<circle class="pg" cx="416.2" cy="307.2" r="3.6" style="stroke:#444;stroke-width:0.7"/>
<circle class="pg" cx="427.6" cy="316.2" r="3.6" style="stroke:#444;stroke-width:0.7"/>
<circle class="pg" cx="437.8" cy="326.4" r="3.6" style="stroke:#444;stroke-width:0.7"/>
<circle class="pg" cx="446.8" cy="337.8" r="3.6" style="stroke:#444;stroke-width:0.7"/>
<circle class="pg" cx="454.3" cy="350.2" r="3.6" style="stroke:#444;stroke-width:0.7"/>
<circle class="pg" cx="460.2" cy="363.4" r="3.6" style="stroke:#444;stroke-width:0.7"/>
<circle class="pg" cx="464.5" cy="377.3" r="3.6" style="stroke:#444;stroke-width:0.7"/>
<circle class="pg" cx="467.1" cy="391.5" r="3.6" style="stroke:#444;stroke-width:0.7"/>
<circle class="pg" cx="468.0" cy="406.0" r="3.6" style="stroke:#444;stroke-width:0.7"/>
<circle class="pg" cx="228.0" cy="420.5" r="3.6" style="stroke:#444;stroke-width:0.7"/>
<circle class="pg" cx="468.0" cy="420.5" r="3.6" style="stroke:#444;stroke-width:0.7"/>
<circle class="pg" cx="228.0" cy="435.0" r="3.6" style="stroke:#444;stroke-width:0.7"/>
<circle class="pg" cx="468.0" cy="435.0" r="3.6" style="stroke:#444;stroke-width:0.7"/>
<circle class="pg" cx="228.0" cy="449.5" r="3.6" style="stroke:#444;stroke-width:0.7"/>
<circle class="pg" cx="468.0" cy="449.5" r="3.6" style="stroke:#444;stroke-width:0.7"/>
<circle class="pg" cx="228.0" cy="464.0" r="3.6" style="stroke:#444;stroke-width:0.7"/>
<circle class="pg" cx="468.0" cy="464.0" r="3.6" style="stroke:#444;stroke-width:0.7"/>
<circle class="pg" cx="228.0" cy="478.5" r="3.6" style="stroke:#444;stroke-width:0.7"/>
<circle class="pg" cx="468.0" cy="478.5" r="3.6" style="stroke:#444;stroke-width:0.7"/>
<circle class="pg" cx="228.0" cy="493.0" r="3.6" style="stroke:#444;stroke-width:0.7"/>
<circle class="pg" cx="468.0" cy="493.0" r="3.6" style="stroke:#444;stroke-width:0.7"/>
<circle class="pg" cx="228.0" cy="507.5" r="3.6" style="stroke:#444;stroke-width:0.7"/>
<circle class="pg" cx="468.0" cy="507.5" r="3.6" style="stroke:#444;stroke-width:0.7"/>
<circle class="pg" cx="228.0" cy="522.0" r="3.6" style="stroke:#444;stroke-width:0.7"/>
<circle class="pg" cx="468.0" cy="522.0" r="3.6" style="stroke:#444;stroke-width:0.7"/>
<circle class="pg" cx="228.0" cy="536.5" r="3.6" style="stroke:#444;stroke-width:0.7"/>
<circle class="pg" cx="468.0" cy="536.5" r="3.6" style="stroke:#444;stroke-width:0.7"/>
<circle class="pg" cx="228.0" cy="551.0" r="3.6" style="stroke:#444;stroke-width:0.7"/>
<circle class="pg" cx="468.0" cy="551.0" r="3.6" style="stroke:#444;stroke-width:0.7"/>
<circle class="pg" cx="228.0" cy="565.5" r="3.6" style="stroke:#444;stroke-width:0.7"/>
<circle class="pg" cx="468.0" cy="565.5" r="3.6" style="stroke:#444;stroke-width:0.7"/>
<circle class="pg" cx="228.0" cy="580.0" r="3.6" style="stroke:#444;stroke-width:0.7"/>
<circle class="pg" cx="468.0" cy="580.0" r="3.6" style="stroke:#444;stroke-width:0.7"/>
<circle class="pg" cx="211.4" cy="406.0" r="2.0" style="stroke:#444;stroke-width:0.7"/>
<circle class="pg" cx="212.1" cy="392.1" r="2.0" style="stroke:#444;stroke-width:0.7"/>
<circle class="pg" cx="214.4" cy="378.5" r="2.0" style="stroke:#444;stroke-width:0.7"/>
<circle class="pg" cx="218.1" cy="365.1" r="2.0" style="stroke:#444;stroke-width:0.7"/>
<circle class="pg" cx="223.2" cy="352.1" r="2.0" style="stroke:#444;stroke-width:0.7"/>
<circle class="pg" cx="229.7" cy="339.7" r="2.0" style="stroke:#444;stroke-width:0.7"/>
<circle class="pg" cx="237.5" cy="328.1" r="2.0" style="stroke:#444;stroke-width:0.7"/>
<circle class="pg" cx="246.5" cy="317.3" r="2.0" style="stroke:#444;stroke-width:0.7"/>
<circle class="pg" cx="256.6" cy="307.5" r="2.0" style="stroke:#444;stroke-width:0.7"/>
<circle class="pg" cx="267.7" cy="298.8" r="2.0" style="stroke:#444;stroke-width:0.7"/>
<circle class="pg" cx="279.7" cy="291.2" r="2.0" style="stroke:#444;stroke-width:0.7"/>
<circle class="pg" cx="292.4" cy="285.0" r="2.0" style="stroke:#444;stroke-width:0.7"/>
<circle class="pg" cx="305.8" cy="280.0" r="2.0" style="stroke:#444;stroke-width:0.7"/>
<circle class="pg" cx="319.6" cy="276.4" r="2.0" style="stroke:#444;stroke-width:0.7"/>
<circle class="pg" cx="333.7" cy="274.2" r="2.0" style="stroke:#444;stroke-width:0.7"/>
<circle class="pg" cx="348.0" cy="273.5" r="2.0" style="stroke:#444;stroke-width:0.7"/>
<circle class="pg" cx="362.3" cy="274.2" r="2.0" style="stroke:#444;stroke-width:0.7"/>
<circle class="pg" cx="376.4" cy="276.4" r="2.0" style="stroke:#444;stroke-width:0.7"/>
<circle class="pg" cx="390.2" cy="280.0" r="2.0" style="stroke:#444;stroke-width:0.7"/>
<circle class="pg" cx="403.6" cy="285.0" r="2.0" style="stroke:#444;stroke-width:0.7"/>
<circle class="pg" cx="416.3" cy="291.2" r="2.0" style="stroke:#444;stroke-width:0.7"/>
<circle class="pg" cx="428.3" cy="298.8" r="2.0" style="stroke:#444;stroke-width:0.7"/>
<circle class="pg" cx="439.4" cy="307.5" r="2.0" style="stroke:#444;stroke-width:0.7"/>
<circle class="pg" cx="449.5" cy="317.3" r="2.0" style="stroke:#444;stroke-width:0.7"/>
<circle class="pg" cx="458.5" cy="328.1" r="2.0" style="stroke:#444;stroke-width:0.7"/>
<circle class="pg" cx="466.3" cy="339.7" r="2.0" style="stroke:#444;stroke-width:0.7"/>
<circle class="pg" cx="472.8" cy="352.1" r="2.0" style="stroke:#444;stroke-width:0.7"/>
<circle class="pg" cx="477.9" cy="365.1" r="2.0" style="stroke:#444;stroke-width:0.7"/>
<circle class="pg" cx="481.6" cy="378.5" r="2.0" style="stroke:#444;stroke-width:0.7"/>
<circle class="pg" cx="483.9" cy="392.1" r="2.0" style="stroke:#444;stroke-width:0.7"/>
<circle class="pg" cx="484.6" cy="406.0" r="2.0" style="stroke:#444;stroke-width:0.7"/>
<circle class="pg" cx="211.4" cy="420.5" r="2.0" style="stroke:#444;stroke-width:0.7"/>
<circle class="pg" cx="484.6" cy="420.5" r="2.0" style="stroke:#444;stroke-width:0.7"/>
<circle class="pg" cx="211.4" cy="435.0" r="2.0" style="stroke:#444;stroke-width:0.7"/>
<circle class="pg" cx="484.6" cy="435.0" r="2.0" style="stroke:#444;stroke-width:0.7"/>
<circle class="pg" cx="211.4" cy="449.5" r="2.0" style="stroke:#444;stroke-width:0.7"/>
<circle class="pg" cx="484.6" cy="449.5" r="2.0" style="stroke:#444;stroke-width:0.7"/>
<circle class="pg" cx="211.4" cy="464.0" r="2.0" style="stroke:#444;stroke-width:0.7"/>
<circle class="pg" cx="484.6" cy="464.0" r="2.0" style="stroke:#444;stroke-width:0.7"/>
<circle class="pg" cx="211.4" cy="478.5" r="2.0" style="stroke:#444;stroke-width:0.7"/>
<circle class="pg" cx="484.6" cy="478.5" r="2.0" style="stroke:#444;stroke-width:0.7"/>
<circle class="pg" cx="211.4" cy="493.0" r="2.0" style="stroke:#444;stroke-width:0.7"/>
<circle class="pg" cx="484.6" cy="493.0" r="2.0" style="stroke:#444;stroke-width:0.7"/>
<circle class="pg" cx="211.4" cy="507.5" r="2.0" style="stroke:#444;stroke-width:0.7"/>
<circle class="pg" cx="484.6" cy="507.5" r="2.0" style="stroke:#444;stroke-width:0.7"/>
<circle class="pg" cx="211.4" cy="522.0" r="2.0" style="stroke:#444;stroke-width:0.7"/>
<circle class="pg" cx="484.6" cy="522.0" r="2.0" style="stroke:#444;stroke-width:0.7"/>
<circle class="pg" cx="211.4" cy="536.5" r="2.0" style="stroke:#444;stroke-width:0.7"/>
<circle class="pg" cx="484.6" cy="536.5" r="2.0" style="stroke:#444;stroke-width:0.7"/>
<circle class="pg" cx="211.4" cy="551.0" r="2.0" style="stroke:#444;stroke-width:0.7"/>
<circle class="pg" cx="484.6" cy="551.0" r="2.0" style="stroke:#444;stroke-width:0.7"/>
<circle class="pg" cx="211.4" cy="565.5" r="2.0" style="stroke:#444;stroke-width:0.7"/>
<circle class="pg" cx="484.6" cy="565.5" r="2.0" style="stroke:#444;stroke-width:0.7"/>
</g>

<!-- 51_diffuser.svg -->
<g transform="translate(540 285) scale(0.13350)">
<ellipse cx="354" cy="322" rx="270" ry="93" fill="#fff" stroke="#111" stroke-width="1.7" vector-effect="non-scaling-stroke"/>
<ellipse class="p" cx="354" cy="312" rx="262" ry="90"/>
<path class="pw" d="M262,392 L288,398 L284,428 L258,420 Z M502,384 L530,374 L536,396 L508,406 Z" style="stroke:#111;stroke-width:1.2"/>
<path d="M126,225 A232,80 0 0 0 590,225 L611,285 A253,88 0 0 1 105,285 Z" fill="#f4f4f4" stroke="#222" stroke-width="1" vector-effect="non-scaling-stroke"/>
<path d="M132,249 L112,303 M139,257 L120,311 M146,263 L127,318 M153,267 L134,323 M160,272 L142,328 M167,275 L150,332 M174,279 L157,335 M181,282 L164,339 M187,284 L172,342 M194,287 L180,344 M201,289 L187,347 M208,291 L194,349 M215,293 L202,351 M222,295 L210,353 M229,296 L217,355 M236,298 L224,357 M242,299 L232,358 M249,301 L240,360 M256,302 L247,361 M263,303 L254,362 M270,304 L262,363 M277,305 L270,364 M284,306 L277,365 M291,307 L284,366 M297,307 L292,367 M304,308 L300,368 M311,308 L307,368 M318,309 L314,369 M325,309 L322,369 M332,309 L330,369 M339,310 L337,370 M346,310 L344,370 M352,310 L352,370 M359,310 L360,370 M366,310 L367,370 M373,310 L374,370 M380,310 L382,370 M387,309 L390,369 M394,309 L397,369 M401,309 L404,369 M408,308 L412,368 M414,308 L420,367 M421,307 L427,367 M428,306 L434,366 M435,305 L442,365 M442,305 L450,364 M449,304 L457,363 M456,303 L464,362 M463,301 L472,361 M469,300 L480,359 M476,299 L487,358 M483,297 L494,356 M490,296 L502,354 M497,294 L510,352 M504,292 L517,350 M511,290 L524,348 M518,288 L532,346 M524,286 L540,343 M531,283 L547,341 M538,280 L554,337 M545,277 L562,334 M552,274 L570,330 M559,270 L577,326 M566,266 L584,321 M573,260 L592,315 M579,254 L600,308 " stroke="#444" stroke-width="0.6" fill="none" vector-effect="non-scaling-stroke"/>
<ellipse cx="358" cy="225" rx="232" ry="80" fill="#dcdcdc" stroke="#111" stroke-width="1.3" vector-effect="non-scaling-stroke"/>
<path d="M140,232 C200,300 520,300 578,232 C520,285 200,285 140,232 Z" fill="#aaa" stroke="#444" stroke-width="0.6" vector-effect="non-scaling-stroke"/>
<path class="pw" d="M178,215 C188,240 225,258 252,260 L252,242 C230,238 205,224 198,205 Z" style="stroke:#222"/>
<path class="pw" d="M232,240 C245,260 272,268 292,268 L292,252 C276,250 258,242 250,228 Z" style="stroke:#222"/>
<path class="pw" d="M498,196 C510,212 515,232 505,248 L523,248 C535,230 528,205 515,191 Z" style="stroke:#222"/>
<path class="pw" d="M550,196 C563,212 566,230 558,243 L574,243 C584,226 579,205 567,191 Z" style="stroke:#222"/>
<path class="p" d="M300,266 C340,254 420,254 465,266 M308,282 C350,272 410,272 456,280" style="stroke:#333"/>
<path d="M244,118 L122,205 M472,118 L594,200" stroke="#111" stroke-width="1.4" fill="none" vector-effect="non-scaling-stroke"/>
<path class="p" d="M244,100 L132,190 M472,100 L586,186"/>
<path class="p" d="M132,190 C122,200 118,215 126,225 M586,186 C596,196 598,212 590,225"/>
<path class="pw" d="M243,108 L243,246 C280,268 430,268 474,246 L474,108 Z" style="stroke:#555"/>
<path class="p" d="M310,165 C350,152 430,152 474,162" style="stroke:#111;stroke-width:1.1"/>
<ellipse class="pw" cx="358" cy="108" rx="115" ry="48" style="stroke:#444"/>
<path d="M317,176 L276,292 M432,170 L503,282" stroke="#111" stroke-width="1.9" stroke-linecap="round" vector-effect="non-scaling-stroke" fill="none"/>
<path class="pk" d="M588,240 L628,236 L632,262 L594,266 Z"/>
</g>

<!-- 52_base.svg -->
<g transform="translate(505 520) scale(0.21663)">
<path class="pw" d="M50,228 L50,318 C90,380 180,425 260,445 C340,465 440,475 520,465 C640,452 740,400 785,330 C795,310 795,290 790,270 L775,215 Z"/>
<path class="pl" d="M56,325 C100,385 190,430 265,450 C345,470 440,480 520,470 C640,458 745,405 790,335"/>
<ellipse class="pw" cx="418" cy="207" rx="358" ry="150" style="stroke-width:1.1"/>
<ellipse class="pl" cx="418" cy="209" rx="348" ry="144"/>
<path d="M95,157 L95,223 M120,137 L120,208 M150,119 L150,196 M183,105 L183,186 M218,93 L218,178 M258,83 L258,171 M300,76 L300,166 M350,70 L350,162 M405,67 L405,160 M452,68 L452,160 M500,71 L500,163 M545,77 L545,166 M590,86 L590,172 M635,98 L635,180 M672,113 L672,190 M704,129 L704,201 M730,147 L730,213 M750,168 L750,228 " stroke="#111" stroke-width="1.5" fill="none" vector-effect="non-scaling-stroke"/>
<path class="pw" d="M78,252 C120,190 280,160 420,160 C560,160 720,190 762,245 C740,300 640,345 500,355 C340,362 140,320 78,252 Z"/>
<path class="p" d="M62,225 C100,300 260,350 420,358 C580,360 730,310 774,225"/>
<path class="pl" d="M70,240 C110,310 265,360 420,368 C575,370 725,322 768,242"/>
<path class="pw" d="M238,78 L252,82 C262,130 300,160 345,158 C395,155 425,120 430,68 L440,58 L440,40 L238,40 Z" style="stroke:none"/>
<path class="p" d="M240,78 L252,82 C262,130 300,160 345,158 C395,155 425,120 430,68 L442,58"/>
<path class="p" d="M275,95 C290,135 315,148 345,147 C380,145 402,120 410,88 M275,95 C320,100 370,98 410,88"/>
<path class="pl" d="M345,147 L345,160"/>
<path class="pw" d="M398,355 C400,420 445,452 500,452 C560,450 598,410 602,340 C560,352 450,362 398,355 Z"/>
<path class="p" d="M418,360 C425,410 455,438 500,438 C548,436 580,405 585,348"/>
<path class="p" d="M445,375 C460,400 480,410 502,410 C530,408 550,392 558,368 M500,410 L500,452"/>
<path d="M50,232 L50,318 M72,295 L72,348 M100,315 L100,372 M155,345 L155,410 M232,372 L232,440 M62,262 L62,300" stroke="#222" stroke-width="1.2" fill="none" vector-effect="non-scaling-stroke"/>
<path class="p" d="M44,232 L44,312 L50,318 M165,395 L165,415 M240,410 L240,440"/>
<path class="pl" d="M775,215 C785,250 790,290 780,330"/>
</g>

<!-- 53_box26.svg -->
<rect class="bx" x="673.3" y="405.3" width="75.3" height="57.4" style="stroke:#444"/>
<g transform="translate(670 395) scale(0.15222)">
<!-- castellated nut -->
<path class="pw" d="M62,262 L80,248 L100,252 L118,268 L135,285 L140,320 L128,345 L108,365 L85,362 L62,345 L52,318 L50,285 Z" style="stroke:#222"/>
<path class="pk" d="M55,285 L85,275 L105,290 L110,325 L95,345 L70,340 L55,318 Z"/>
<path class="p" d="M80,248 L84,262 L104,266 L100,252 M118,268 L112,282 L130,300 L135,285 M128,345 L118,335 L104,350 L108,365 M62,345 L70,335"/>
<!-- oring -->
<ellipse cx="192" cy="276" rx="29" ry="45" transform="rotate(-15 192 276)" fill="#fff" stroke="#666" stroke-width="1.4" vector-effect="non-scaling-stroke"/>
<ellipse cx="192" cy="276" rx="29" ry="45" transform="rotate(-15 192 276)" fill="none" stroke="#eee" stroke-width="0.4" vector-effect="non-scaling-stroke"/>
<!-- stem -->
<g transform="rotate(-17 272 250)">
<path class="pw" d="M272,228 L385,220 L385,282 L272,272 Z" style="stroke:#222"/>
<path class="p" d="M272,237 L385,232 M272,246 L385,245 M272,255 L385,258 M272,264 L385,270"/>
<ellipse class="pw" cx="272" cy="250" rx="7" ry="22"/>
<path class="pk" d="M385,226 L420,226 L420,276 L385,276 Z"/>
<path class="pk" d="M418,196 L488,196 C498,210 498,292 488,306 L418,306 C408,292 408,210 418,196 Z"/>
<path d="M436,200 L436,302 M454,198 L454,304 M472,198 L472,304" stroke="#999" stroke-width="0.5" vector-effect="non-scaling-stroke"/>
<ellipse cx="418" cy="251" rx="10" ry="55" fill="none" stroke="#aaa" stroke-width="0.6" vector-effect="non-scaling-stroke"/>
</g>
<!-- oring 17 -->
<ellipse cx="572" cy="155" rx="31" ry="47" transform="rotate(-22 572 155)" fill="#fff" stroke="#666" stroke-width="1.6" vector-effect="non-scaling-stroke"/>
<ellipse cx="572" cy="155" rx="31" ry="47" transform="rotate(-22 572 155)" fill="none" stroke="#eee" stroke-width="0.4" vector-effect="non-scaling-stroke"/>
<!-- cap 16 -->
<g transform="rotate(-15 715 112)">
<path class="pw" d="M690,38 L770,40 C795,60 795,165 770,186 L690,188 Z" style="stroke:#222"/>
<path class="p" d="M700,56 L782,58 M705,78 L788,80 M706,100 L790,102 M706,122 L790,124 M705,144 L786,146 M700,166 L778,168 M740,39 L740,187"/>
<ellipse class="pk" cx="690" cy="113" rx="38" ry="76"/>
<ellipse cx="694" cy="113" rx="22" ry="56" fill="none" stroke="#666" stroke-width="0.6" vector-effect="non-scaling-stroke"/>
<ellipse class="p" cx="690" cy="113" rx="40" ry="78" style="stroke:#222"/>
</g>
</g>

<!-- 90_callouts.svg -->
<line class="l" x1="172.8" y1="38.0" x2="149.0" y2="84.0"/>
<line class="l" x1="235.0" y1="38.3" x2="243.0" y2="62.0"/>
<line class="l" x1="429.3" y1="32.6" x2="555.4" y2="85.2"/>
<line class="l" x1="430.1" y1="76.4" x2="474.0" y2="94.0"/>
<line class="l" x1="430.9" y1="122.0" x2="502.8" y2="109.8"/>
<line class="l" x1="431.4" y1="166.3" x2="545.4" y2="181.4"/>
<line class="l" x1="655.5" y1="53.9" x2="797.4" y2="35.6"/>
<line class="l" x1="665.0" y1="124.0" x2="797.9" y2="73.9"/>
<line class="l" x1="705.7" y1="136.6" x2="799.4" y2="113.5"/>
<line class="l" x1="759.8" y1="150.4" x2="798.9" y2="149.6"/>
<line class="l" x1="592.8" y1="217.1" x2="800.7" y2="187.3"/>
<line class="l" x1="689.1" y1="240.2" x2="801.4" y2="220.0"/>
<line class="l" x1="718.0" y1="245.0" x2="801.4" y2="254.6"/>
<line class="l" x1="689.1" y1="288.3" x2="802.0" y2="297.3"/>
<line class="l" x1="616.9" y1="319.4" x2="802.3" y2="336.4"/>
<line class="l" x1="655.0" y1="390.6" x2="804.2" y2="378.0"/>
<line class="l" x1="789.9" y1="412.6" x2="804.2" y2="415.6"/>
<line class="l" x1="760.3" y1="424.7" x2="805.4" y2="451.5"/>
<line class="l" x1="748.3" y1="462.8" x2="807.0" y2="518.0"/>
<line class="l" x1="666.3" y1="588.5" x2="803.4" y2="569.0"/>
<line class="l" x1="207.6" y1="223.1" x2="279.0" y2="247.2"/>
<line class="l" x1="205.8" y1="264.2" x2="275.3" y2="312.8"/>
<line class="l" x1="204.5" y1="304.5" x2="272.2" y2="356.4"/>
<line class="l" x1="205.0" y1="345.0" x2="279.5" y2="399.7"/>
<line class="l" x1="204.6" y1="385.7" x2="274.0" y2="431.6"/>
<line class="l" x1="327.4" y1="215.0" x2="324.6" y2="238.0"/>
<line class="l" x1="365.0" y1="214.6" x2="355.5" y2="247.2"/>
<line class="l" x1="421.3" y1="276.6" x2="427.6" y2="242.8"/>
<line class="l" x1="427.6" y1="315.7" x2="476.5" y2="204.7"/>
<line class="l" x1="430.1" y1="355.3" x2="492.8" y2="247.8"/>
<line class="l" x1="43.9" y1="627.3" x2="45.9" y2="587.7"/>
<line class="l" x1="90.2" y1="627.3" x2="102.8" y2="568.9"/>
<line class="l" x1="132.8" y1="628.8" x2="132.8" y2="566.4"/>
<line class="l" x1="174.7" y1="627.8" x2="170.4" y2="553.9"/>
<line class="l" x1="240.2" y1="628.6" x2="210.2" y2="545.1"/>
<line class="l" x1="294.1" y1="628.3" x2="324.2" y2="516.3"/>
<circle class="c" cx="180.3" cy="25.2" r="13.8"/><text class="t" transform="translate(180.3 30.2) scale(0.97 1)" x="0" y="0">28</text>
<circle class="c" cx="231.0" cy="25.2" r="13.8"/><text class="t" transform="translate(231.0 30.2) scale(0.97 1)" x="0" y="0">29</text>
<circle class="c" cx="416.3" cy="27.6" r="13.8"/><text class="t" transform="translate(416.3 32.6) scale(0.97 1)" x="0" y="0">15</text>
<circle class="c" cx="416.3" cy="72.4" r="13.8"/><text class="t" transform="translate(416.3 77.4) scale(0.97 1)" x="0" y="0">16</text>
<circle class="c" cx="416.3" cy="120.2" r="13.8"/><text class="t" transform="translate(416.3 125.2) scale(0.97 1)" x="0" y="0">17</text>
<circle class="c" cx="417.0" cy="165.4" r="13.8"/><text class="t" transform="translate(417.0 170.4) scale(0.97 1)" x="0" y="0">18</text>
<circle class="c" cx="811.7" cy="33.7" r="13.8"/><text class="t" transform="translate(811.7 38.7) scale(0.97 1)" x="0" y="0">21</text>
<circle class="c" cx="811.7" cy="71.1" r="13.8"/><text class="t" transform="translate(811.7 76.1) scale(0.97 1)" x="0" y="0">11</text>
<circle class="c" cx="812.9" cy="109.9" r="13.8"/><text class="t" transform="translate(812.9 114.9) scale(0.97 1)" x="0" y="0">5</text>
<circle class="c" cx="813.4" cy="149.0" r="13.8"/><text class="t" transform="translate(813.4 154.0) scale(0.97 1)" x="0" y="0">6</text>
<circle class="c" cx="815.2" cy="184.5" r="13.8"/><text class="t" transform="translate(815.2 189.5) scale(0.97 1)" x="0" y="0">27</text>
<circle class="c" cx="815.2" cy="218.1" r="13.8"/><text class="t" transform="translate(815.2 223.1) scale(0.97 1)" x="0" y="0">22</text>
<circle class="c" cx="815.8" cy="256.6" r="13.8"/><text class="t" transform="translate(815.8 261.6) scale(0.97 1)" x="0" y="0">19</text>
<circle class="c" cx="815.8" cy="299.0" r="13.8"/><text class="t" transform="translate(815.8 304.0) scale(0.97 1)" x="0" y="0">20</text>
<circle class="c" cx="816.8" cy="338.4" r="13.8"/><text class="t" transform="translate(816.8 343.4) scale(0.97 1)" x="0" y="0">23</text>
<circle class="c" cx="817.5" cy="377.4" r="13.8"/><text class="t" transform="translate(817.5 382.4) scale(0.97 1)" x="0" y="0">24</text>
<circle class="c" cx="817.5" cy="417.5" r="13.8"/><text class="t" transform="translate(817.5 422.5) scale(0.97 1)" x="0" y="0">16</text>
<circle class="c" cx="817.5" cy="456.9" r="13.8"/><text class="t" transform="translate(817.5 461.9) scale(0.97 1)" x="0" y="0">17</text>
<circle class="c" cx="817.7" cy="527.5" r="13.8"/><text class="t" transform="translate(817.7 532.5) scale(0.97 1)" x="0" y="0">26</text>
<circle class="c" cx="817.4" cy="568.1" r="13.8"/><text class="t" transform="translate(817.4 573.1) scale(0.97 1)" x="0" y="0">25</text>
<circle class="c" cx="194.8" cy="217.2" r="13.8"/><text class="t" transform="translate(194.8 222.2) scale(0.97 1)" x="0" y="0">14</text>
<circle class="c" cx="194.8" cy="258.6" r="13.8"/><text class="t" transform="translate(194.8 263.6) scale(0.97 1)" x="0" y="0">13</text>
<circle class="c" cx="194.4" cy="296.9" r="13.8"/><text class="t" transform="translate(194.4 301.9) scale(0.97 1)" x="0" y="0">6</text>
<circle class="c" cx="193.6" cy="337.6" r="13.8"/><text class="t" transform="translate(193.6 342.6) scale(0.97 1)" x="0" y="0">12</text>
<circle class="c" cx="193.2" cy="377.6" r="13.8"/><text class="t" transform="translate(193.2 382.6) scale(0.97 1)" x="0" y="0">11</text>
<circle class="c" cx="328.3" cy="201.0" r="13.8"/><text class="t" transform="translate(328.3 206.0) scale(0.97 1)" x="0" y="0">6</text>
<circle class="c" cx="369.8" cy="201.0" r="13.8"/><text class="t" transform="translate(369.8 206.0) scale(0.97 1)" x="0" y="0">11</text>
<circle class="c" cx="418.0" cy="290.9" r="13.8"/><text class="t" transform="translate(418.0 295.9) scale(0.97 1)" x="0" y="0">19</text>
<circle class="c" cx="418.8" cy="328.6" r="13.8"/><text class="t" transform="translate(418.8 333.6) scale(0.97 1)" x="0" y="0">20</text>
<circle class="c" cx="419.6" cy="367.7" r="13.8"/><text class="t" transform="translate(419.6 372.7) scale(0.97 1)" x="0" y="0">22</text>
<circle class="c" cx="42.6" cy="642.3" r="13.8"/><text class="t" transform="translate(42.6 647.3) scale(0.97 1)" x="0" y="0">6</text>
<circle class="c" cx="89.0" cy="642.3" r="13.8"/><text class="t" transform="translate(89.0 647.3) scale(0.97 1)" x="0" y="0">5</text>
<circle class="c" cx="131.8" cy="643.8" r="13.8"/><text class="t" transform="translate(131.8 648.8) scale(0.97 1)" x="0" y="0">4</text>
<circle class="c" cx="174.7" cy="642.8" r="13.8"/><text class="t" transform="translate(174.7 647.8) scale(0.97 1)" x="0" y="0">3</text>
<circle class="c" cx="246.5" cy="642.3" r="13.8"/><text class="t" transform="translate(246.5 647.3) scale(0.97 1)" x="0" y="0">11</text>
<circle class="c" cx="288.6" cy="642.8" r="13.8"/><text class="t" transform="translate(288.6 647.8) scale(0.97 1)" x="0" y="0">1</text>

</svg>
</body></html>
